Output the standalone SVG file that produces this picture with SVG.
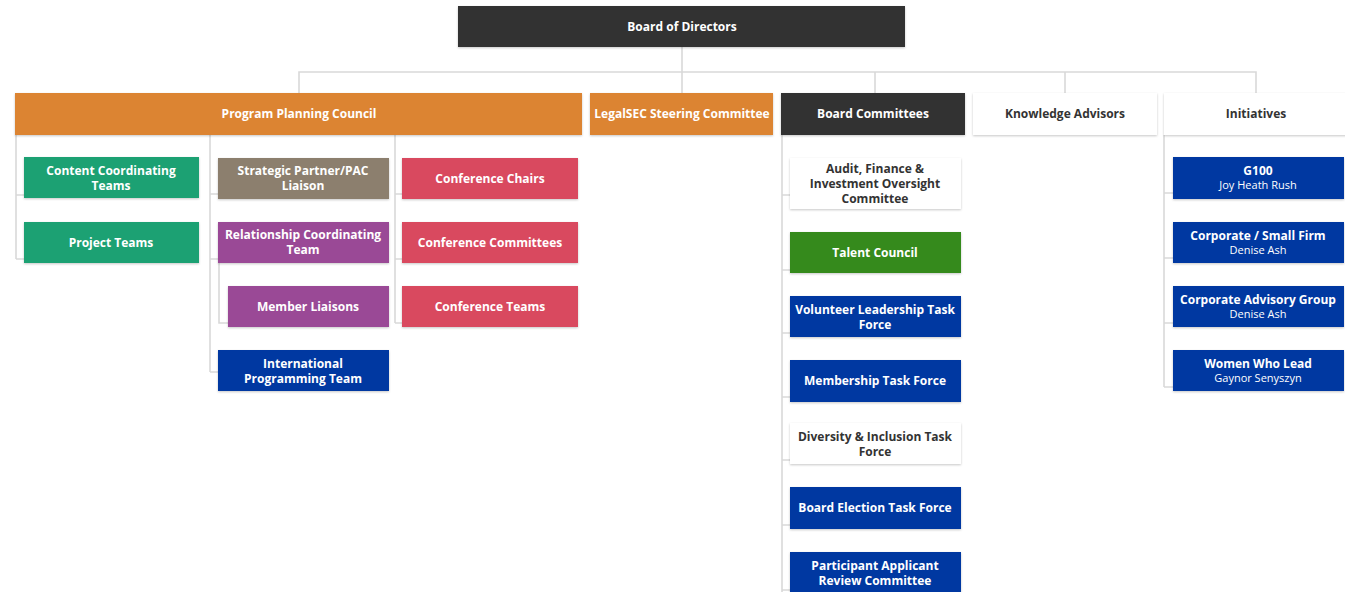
<svg xmlns="http://www.w3.org/2000/svg" width="1345" height="592" viewBox="0 0 1345 592">
  <defs>
    <filter id="shadow" x="-5%" y="-20%" width="110%" height="150%">
      <feDropShadow dx="0" dy="1" stdDeviation="1" flood-color="#000" flood-opacity="0.22"/>
    </filter>
    <style>
      .box { filter: url(#shadow); }
      .orange { fill: #DC8430; }
      .dark { fill: #333333; }
      .white { fill: #FFFFFF; }
      .green { fill: #1CA173; }
      .taupe { fill: #8C7F6E; }
      .purple { fill: #9A4896; }
      .red { fill: #D9495E; }
      .blue { fill: #0639A1; }
      .leaf { fill: #358A1B; }
      text { font-family: "Open Sans", "Noto Sans", "Liberation Sans", sans-serif; font-size: 12px; font-weight: 700; text-anchor: middle; }
      .lt { fill: #FFFFFF; }
      .dt { fill: #333333; }
      .sub { font-size: 11px; font-weight: 400; }
      .conn { fill: none; stroke: #D9D9D9; stroke-width: 1.6; }
    </style>
  </defs>
  <rect width="1345" height="592" fill="#FFFFFF"/>

  <!-- connectors -->
  <g id="connectors" class="conn">
    <path d="M682 47 V72 M299 93 V72 H1256 V93 M682 72 V93 M875 72 V93 M1065 72 V93"/>
    <!-- Program Planning Council columns -->
    <path d="M16 135 V259 M16 195 H24 M16 259 H24"/>
    <path d="M210 135 V372 M210 194 H218 M210 259 H218 M210 372 H218"/>
    <path d="M219 263 V323 H228"/>
    <path d="M395 135 V323 M395 194 H402 M395 259 H402 M395 323 H402"/>
    <!-- Board Committees -->
    <path d="M782 135 V592 M782 195 H790 M782 270 H790 M782 333 H790 M782 397 H790 M782 460 H790 M782 525 H790 M782 590 H790"/>
    <!-- Initiatives -->
    <path d="M1164 135 V387 M1164 193 H1173 M1164 258 H1173 M1164 323 H1173 M1164 387 H1173"/>
  </g>

  <!-- top -->
  <g id="board-of-directors">
    <rect class="box dark" x="458" y="6" width="447" height="41"/>
    <text class="lt" x="682" y="31">Board of Directors</text>
  </g>

  <!-- level 1 -->
  <g id="program-planning-council">
    <rect class="box orange" x="15" y="93" width="567" height="42"/>
    <text class="lt" x="299" y="118">Program Planning Council</text>
  </g>
  <g id="legalsec-steering-committee">
    <rect class="box orange" x="590" y="93" width="183" height="42"/>
    <text class="lt" x="682" y="118">LegalSEC Steering Committee</text>
  </g>
  <g id="board-committees">
    <rect class="box dark" x="781" y="93" width="184" height="42"/>
    <text class="lt" x="873" y="118">Board Committees</text>
  </g>
  <g id="knowledge-advisors">
    <rect class="box white" x="973" y="93" width="184" height="42"/>
    <text class="dt" x="1065" y="118" fill="#222">Knowledge Advisors</text>
  </g>
  <g id="initiatives">
    <rect class="box white" x="1164" y="93" width="184" height="42"/>
    <text class="dt" x="1256" y="118" fill="#444">Initiatives</text>
  </g>

  <!-- Program Planning Council: column 1 -->
  <g id="content-coordinating-teams">
    <rect class="box green" x="24" y="157" width="175" height="41"/>
    <text class="lt" x="111" y="175">Content Coordinating</text>
    <text class="lt" x="111" y="190">Teams</text>
  </g>
  <g id="project-teams">
    <rect class="box green" x="24" y="222" width="175" height="41"/>
    <text class="lt" x="111" y="247">Project Teams</text>
  </g>

  <!-- Program Planning Council: column 2 -->
  <g id="strategic-partner-pac-liaison">
    <rect class="box taupe" x="218" y="158" width="171" height="41"/>
    <text class="lt" x="303" y="175">Strategic Partner/PAC</text>
    <text class="lt" x="303" y="190">Liaison</text>
  </g>
  <g id="relationship-coordinating-team">
    <rect class="box purple" x="218" y="222" width="171" height="41"/>
    <text class="lt" x="303" y="239">Relationship Coordinating</text>
    <text class="lt" x="303" y="254">Team</text>
  </g>
  <g id="member-liaisons">
    <rect class="box purple" x="228" y="286" width="161" height="41"/>
    <text class="lt" x="308" y="311">Member Liaisons</text>
  </g>
  <g id="international-programming-team">
    <rect class="box blue" x="218" y="350" width="171" height="41"/>
    <text class="lt" x="303" y="368">International</text>
    <text class="lt" x="303" y="383">Programming Team</text>
  </g>

  <!-- Program Planning Council: column 3 -->
  <g id="conference-chairs">
    <rect class="box red" x="402" y="158" width="176" height="41"/>
    <text class="lt" x="490" y="183">Conference Chairs</text>
  </g>
  <g id="conference-committees">
    <rect class="box red" x="402" y="222" width="176" height="41"/>
    <text class="lt" x="490" y="247">Conference Committees</text>
  </g>
  <g id="conference-teams">
    <rect class="box red" x="402" y="286" width="176" height="41"/>
    <text class="lt" x="490" y="311">Conference Teams</text>
  </g>

  <!-- Board Committees children -->
  <g id="audit-finance-investment">
    <rect class="box white" x="790" y="158" width="171" height="51"/>
    <text class="dt" x="875" y="173">Audit, Finance &amp;</text>
    <text class="dt" x="875" y="188">Investment Oversight</text>
    <text class="dt" x="875" y="203">Committee</text>
  </g>
  <g id="talent-council">
    <rect class="box leaf" x="790" y="232" width="171" height="41"/>
    <text class="lt" x="875" y="257">Talent Council</text>
  </g>
  <g id="volunteer-leadership-task-force">
    <rect class="box blue" x="790" y="296" width="171" height="41"/>
    <text class="lt" x="875" y="314">Volunteer Leadership Task</text>
    <text class="lt" x="875" y="329">Force</text>
  </g>
  <g id="membership-task-force">
    <rect class="box blue" x="790" y="360" width="171" height="42"/>
    <text class="lt" x="875" y="385">Membership Task Force</text>
  </g>
  <g id="diversity-inclusion-task-force">
    <rect class="box white" x="790" y="423" width="171" height="41"/>
    <text class="dt" x="875" y="441">Diversity &amp; Inclusion Task</text>
    <text class="dt" x="875" y="456">Force</text>
  </g>
  <g id="board-election-task-force">
    <rect class="box blue" x="790" y="487" width="171" height="42"/>
    <text class="lt" x="875" y="512">Board Election Task Force</text>
  </g>
  <g id="participant-applicant-review">
    <rect class="box blue" x="790" y="552" width="171" height="44"/>
    <text class="lt" x="875" y="570">Participant Applicant</text>
    <text class="lt" x="875" y="585">Review Committee</text>
  </g>

  <!-- Initiatives children -->
  <g id="g100">
    <rect class="box blue" x="1173" y="157" width="171" height="42"/>
    <text class="lt" x="1258" y="175">G100</text>
    <text class="lt sub" x="1258" y="189">Joy Heath Rush</text>
  </g>
  <g id="corporate-small-firm">
    <rect class="box blue" x="1173" y="222" width="171" height="41"/>
    <text class="lt" x="1258" y="240">Corporate / Small Firm</text>
    <text class="lt sub" x="1258" y="254">Denise Ash</text>
  </g>
  <g id="corporate-advisory-group">
    <rect class="box blue" x="1173" y="286" width="171" height="41"/>
    <text class="lt" x="1258" y="304">Corporate Advisory Group</text>
    <text class="lt sub" x="1258" y="318">Denise Ash</text>
  </g>
  <g id="women-who-lead">
    <rect class="box blue" x="1173" y="350" width="171" height="41"/>
    <text class="lt" x="1258" y="368">Women Who Lead</text>
    <text class="lt sub" x="1258" y="382">Gaynor Senyszyn</text>
  </g>
</svg>
